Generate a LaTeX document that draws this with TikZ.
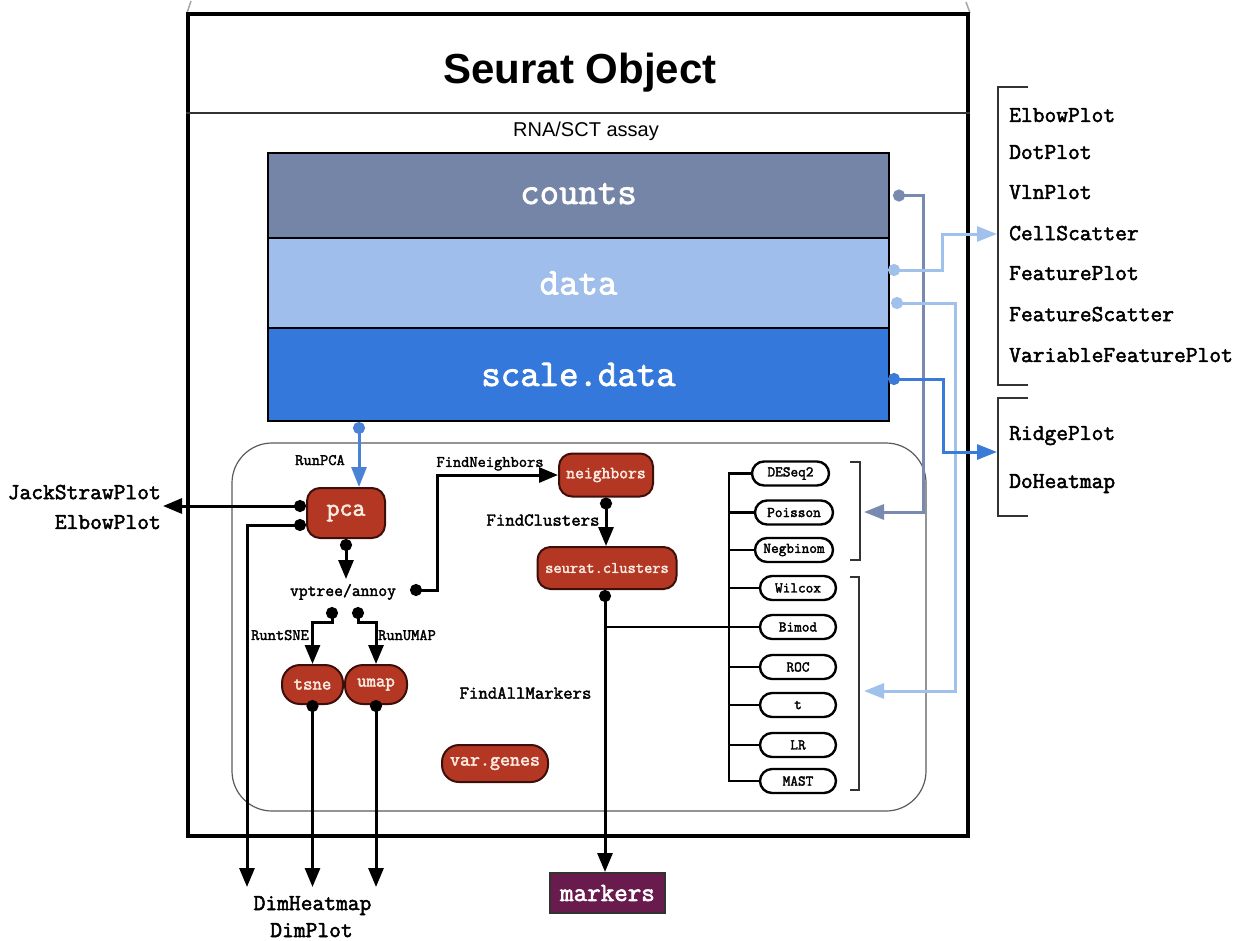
\documentclass[tikz,border=0pt]{standalone}
\usepackage{fontspec}
\setmainfont{Liberation Sans}
\newfontfamily\lmmono[AutoFakeBold=2.2]{Latin Modern Mono}
\usetikzlibrary{arrows.meta}
\definecolor{cslate}{RGB}{117,133,168}
\definecolor{clight}{RGB}{160,190,235}
\definecolor{cdeep}{RGB}{52,120,220}
\definecolor{lslate}{RGB}{120,138,176}
\definecolor{llight}{RGB}{160,193,236}
\definecolor{ldeep}{RGB}{58,122,216}
\definecolor{lpca}{RGB}{74,130,214}
\definecolor{cred}{RGB}{180,55,35}
\definecolor{cedge}{RGB}{60,15,10}
\definecolor{ccream}{RGB}{250,236,226}
\definecolor{cpurp}{RGB}{106,27,77}
\definecolor{cgray}{RGB}{90,90,90}
% Latin Modern Mono is 0.525em wide; sizes scaled by 1.143 to match Courier widths
\newcommand{\cmono}[1]{\lmmono\bfseries\fontsize{\fpeval{1.143*#1}}{\fpeval{1.143*#1}}\selectfont}
\tikzset{
  layer/.style={draw=black,line width=2pt,minimum width=621pt,inner sep=0pt,text=white,font=\cmono{33}},
  rnode/.style={draw=cedge,fill=cred,line width=2pt,rounded corners=13pt,inner sep=0pt,text=ccream},
  pill/.style={draw=black,fill=white,line width=2.4pt,rounded corners=12pt,minimum height=24pt,inner sep=0pt,font=\cmono{13}},
  lbl/.style={inner sep=0pt,text depth=0pt,font=\cmono{14}},
  plotlbl/.style={inner sep=0pt,text depth=0pt,font=\cmono{20},anchor=west},
  bkd/.style={line width=3pt,{Circle[length=12pt]}-{Triangle[length=19pt,width=15pt]}},
  bus/.style={line width=2.5pt},
  brk/.style={line width=2pt,black!80},
  colconn/.style={line width=3pt,draw=#1,{Circle[length=12pt]}-{Triangle[length=20pt,width=15pt]}},
}
\begin{document}
\begin{tikzpicture}[x=1pt,y=-1pt]
\useasboundingbox (0,0) rectangle (1246,940);
% top ticks
\draw[black!35,line width=1.5pt] (187,13) -- (191,1);
\draw[black!35,line width=1.5pt] (970,13) -- (966,2);
% lower panel
\draw[cgray,line width=1.2pt,rounded corners=40pt] (232,443) rectangle (926,811);
% Seurat object box
\node[draw=black,line width=4pt,minimum width=780pt,minimum height=822pt,inner sep=0pt] (seurat) at (578,425) {};
\draw[line width=2pt,black!80] (seurat.west |- 0,113) -- (seurat.east |- 0,113);
\node[inner sep=0pt,font=\bfseries\fontsize{42}{42}\selectfont] (title) at (580,73) {Seurat Object};
\node[inner sep=0pt,font=\fontsize{20}{20}\selectfont] (assay) at (586,131) {RNA/SCT assay};
% layers
\node[layer,fill=cslate,minimum height=85pt] (cnt) at (578.5,195.5) {\raisebox{4pt}{counts}};
\node[layer,fill=clight,minimum height=90pt] (dat) at (578.5,283) {data};
\node[layer,fill=cdeep,minimum height=93pt] (sdat) at (578.5,374.5) {scale.data};
% red nodes
\node[rnode,minimum width=78pt,minimum height=50pt,font=\cmono{22}] (pca) at (346,513) {pca};
\node[rnode,minimum width=94pt,minimum height=43pt,font=\cmono{15}] (nb) at (606,475) {neighbors};
\node[rnode,minimum width=139pt,minimum height=42pt,font=\cmono{14}] (sc) at (607,568) {seurat.clusters};
\node[rnode,rounded corners=18pt,minimum width=61pt,minimum height=39pt,font=\cmono{16}] (tsne) at (312.5,684.5) {tsne};
\node[rnode,rounded corners=18pt,minimum width=62pt,minimum height=39pt,font=\cmono{16}] (umap) at (376,684.5) {umap};
\node[rnode,rounded corners=17pt,minimum width=106pt,minimum height=37pt,font=\cmono{17}] (vg) at (495,763.5) {var.genes};
\node[draw=black!80,line width=2pt,fill=cpurp,text=white,minimum width=115pt,minimum height=40pt,inner sep=0pt,font=\cmono{23}] (mk) at (607.5,893) {markers};
% labels
\node[lbl] (runpca) at (320,460) {RunPCA};
\node[lbl,font=\cmono{15}] (vp) at (343,590) {vptree/annoy};
\node[lbl] (fnb) at (490,462) {FindNeighbors};
\node[lbl,font=\cmono{16}] (fcl) at (543,520) {FindClusters};
\node[lbl] (rts) at (280,635) {RuntSNE};
\node[lbl] (rum) at (407,635) {RunUMAP};
\node[lbl,font=\cmono{16}] (fam) at (525.5,693) {FindAllMarkers};
\node[plotlbl,anchor=east] (jsp) at (161,492) {JackStrawPlot};
\node[plotlbl,anchor=east] (ebl) at (161,522) {ElbowPlot};
\node[plotlbl,anchor=center] (dhm) at (312.5,903) {DimHeatmap};
\node[plotlbl,anchor=center] (dpl) at (311.5,930) {DimPlot};
% right plot lists
\node[plotlbl] (pl1) at (1009,115) {ElbowPlot};
\node[plotlbl] (pl2) at (1009,152) {DotPlot};
\node[plotlbl] (pl3) at (1009,192) {VlnPlot};
\node[plotlbl] (pl4) at (1009,233) {CellScatter};
\node[plotlbl] (pl5) at (1009,273) {FeaturePlot};
\node[plotlbl] (pl6) at (1009,314) {FeatureScatter};
\node[plotlbl] (pl7) at (1009,355) {VariableFeaturePlot};
\node[plotlbl] (pl8) at (1009,433) {RidgePlot};
\node[plotlbl] (pl9) at (1009,481) {DoHeatmap};
\draw[brk] (1028,87) -- (998,87) -- (998,385) -- (1028,385);
\draw[brk] (1028,398) -- (998,398) -- (998,516) -- (1028,516);
% test pills
\node[pill,minimum width=77pt] (deseq) at (790.5,473.5) {DESeq2};
\node[pill,minimum width=78pt] (pois) at (794,512.5) {Poisson};
\node[pill,minimum width=78pt] (negb) at (794,550) {Negbinom};
\node[pill,minimum width=76pt] (wil) at (798,588) {Wilcox};
\node[pill,minimum width=76pt] (bim) at (798,627) {Bimod};
\node[pill,minimum width=76pt] (roc) at (798,667) {ROC};
\node[pill,minimum width=76pt] (tt) at (798,705) {t};
\node[pill,minimum width=76pt] (lr) at (798,745) {LR};
\node[pill,minimum width=76pt] (mast) at (798,781) {MAST};
\coordinate (busx) at (729,0);
\draw[bus] (deseq.west) -- (deseq.west -| busx) -- (mast.west -| busx) -- (mast.west);
\foreach \n in {pois,negb,wil,bim,roc,tt,lr} \draw[bus] (\n.west) -- (\n.west -| busx);
\draw[brk] (850,462) -- (860,462) -- (860,560) -- (850,560);
\draw[brk] (850,577) -- (859,577) -- (859,790) -- (850,790);
% black connectors
\coordinate (xsp) at (359,0);
\draw[colconn=lpca] (sdat.south -| xsp) -- (pca.north -| xsp);
\coordinate (jspin) at (163,506);
\draw[bkd] (pca.west |- jspin) -- (jspin);
\coordinate (pcaL) at (0,525);
\coordinate (dhl) at (247,887);
\draw[bkd] (pca.west |- pcaL) -| (dhl);
\coordinate (vpin) at (346,579);
\draw[bkd] (pca.south) -- (vpin);
\coordinate (vpo) at (410,590);
\coordinate (fnx) at (437,0);
\draw[bkd] (vpo) -- (vpo -| fnx) |- (nb.west);
\draw[bkd] (nb.south) -- (sc.north -| nb.south);
\coordinate (scx) at (605,0);
\draw[bkd] (sc.south -| scx) -- (mk.north -| scx);
\coordinate (brj) at (605,627);
\draw[bus] (brj) -- (brj -| busx);
\coordinate (vpl) at (332,607);
\coordinate (vpr) at (358,607);
\draw[bkd] (vpl) -- ++(0,15) -| (tsne.north);
\draw[bkd] (vpr) -- ++(0,15) -| (umap.north);
\coordinate (tsd) at (312.5,887);
\coordinate (umd) at (376,887);
\draw[bkd] ([yshift=5pt]tsne.south) -- (tsd);
\draw[bkd] ([yshift=5pt]umap.south) -- (umd);
% coloured connectors
\coordinate (vx1) at (920,0);
\coordinate (poisin) at (864,512);
\draw[colconn=lslate] ([xshift=3pt]cnt.east) -- ([xshift=3pt]cnt.east -| vx1) |- (poisin);
\coordinate (d2s) at (891,303);
\coordinate (vx3) at (955,0);
\coordinate (tin) at (864,691);
\draw[colconn=llight] (d2s) -- (d2s -| vx3) |- (tin);
\coordinate (d1s) at (888,270);
\coordinate (vx2) at (942,0);
\coordinate (csin) at (997,234);
\draw[colconn=llight] (d1s) -- (d1s -| vx2) |- (csin);
\coordinate (s1s) at (888,379);
\coordinate (vx4) at (943,0);
\coordinate (rpin) at (997,452);
\draw[colconn=ldeep] (s1s) -- (s1s -| vx4) |- (rpin);
\end{tikzpicture}
\end{document}
